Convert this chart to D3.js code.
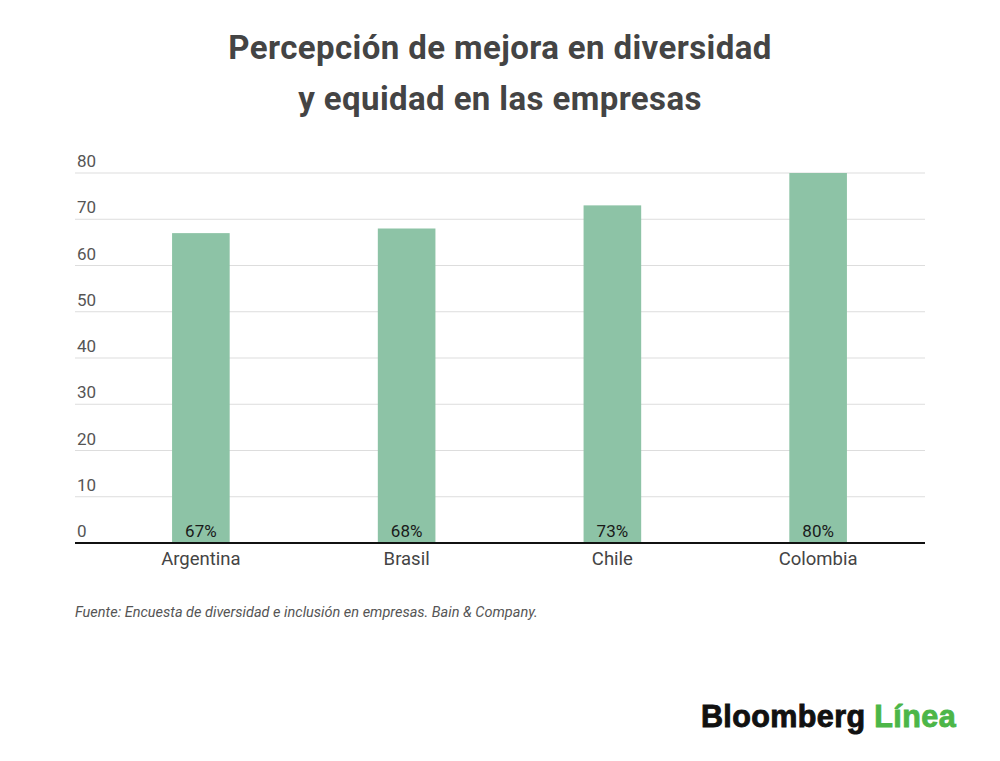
<!DOCTYPE html>
<html>
<head>
<meta charset="utf-8">
<script src="https://cdn.jsdelivr.net/npm/d3@7"></script>
<style>
  body { margin: 0; background: #fff; }
  svg { font-family: Roboto, "Noto Sans", sans-serif; }
</style>
</head>
<body>
<div id="chart"></div>
<script>
// Chart data
const countries = ["Argentina", "Brasil", "Chile", "Colombia"];
const values = [67, 68, 73, 80];
const yTicks = [0, 10, 20, 30, 40, 50, 60, 70, 80];
const titleLines = ["Percepción de mejora en diversidad", "y equidad en las empresas"];
const sourceText = "Fuente: Encuesta de diversidad e inclusión en empresas. Bain & Company.";

const width = 1000;
const height = 761;

const svg = d3.select("#chart")
    .append("svg")
    .attr("width", width)
    .attr("height", height);

// Scales
const xScale = d3.scaleBand()
    .domain(countries)
    .range([98, 921])
    .paddingInner(0.72)
    .paddingOuter(0.36);

const yScale = d3.scaleLinear()
    .domain([0, 80])
    .range([543, 173]);

// Title
svg.append("g")
    .selectAll("text")
    .data(titleLines)
    .enter().append("text")
    .attr("x", 500)
    .attr("y", (d, i) => 59 + i * 51)
    .attr("text-anchor", "middle")
    .attr("font-size", 33)
    .attr("font-weight", "bold")
    .attr("letter-spacing", 0.4)
    .attr("fill", "#444")
    .text(d => d);

// Gridlines
svg.append("g")
    .selectAll("line")
    .data(yTicks.filter(d => d > 0))
    .enter().append("line")
    .attr("x1", 75)
    .attr("x2", 925)
    .attr("y1", d => yScale(d))
    .attr("y2", d => yScale(d))
    .attr("stroke", "#ddd")
    .attr("stroke-width", 1);

// Y tick labels sit above their gridline
svg.append("g")
    .selectAll("text")
    .data(yTicks)
    .enter().append("text")
    .attr("x", 77)
    .attr("y", d => yScale(d) - 6)
    .attr("font-size", 17)
    .attr("fill", "#555")
    .text(d => d);

// Bars
svg.selectAll(".bar")
    .data(values)
    .enter().append("rect")
    .attr("class", "bar")
    .attr("x", (d, i) => xScale(countries[i]))
    .attr("y", d => yScale(d))
    .attr("width", xScale.bandwidth())
    .attr("height", d => yScale(0) - yScale(d))
    .attr("fill", "#8dc3a6");

// Value labels at the bottom of each bar
svg.append("g")
    .selectAll("text")
    .data(values)
    .enter().append("text")
    .attr("x", (d, i) => xScale(countries[i]) + xScale.bandwidth() / 2)
    .attr("y", yScale(0) - 6)
    .attr("text-anchor", "middle")
    .attr("font-size", 17)
    .attr("fill", "#1a1a1a")
    .text(d => d + "%");

// Baseline
svg.append("line")
    .attr("x1", 75)
    .attr("x2", 925)
    .attr("y1", yScale(0))
    .attr("y2", yScale(0))
    .attr("stroke", "#111")
    .attr("stroke-width", 2);

// X axis labels
const xAxis = svg.append("g")
    .attr("transform", "translate(0," + yScale(0) + ")")
    .call(d3.axisBottom(xScale).tickSize(0).tickPadding(9));
xAxis.select(".domain").remove();
xAxis.selectAll("text")
    .attr("font-family", "Roboto, sans-serif")
    .attr("font-size", 18.5)
    .attr("fill", "#444");

// Source note
svg.append("text")
    .attr("x", 75)
    .attr("y", 617)
    .attr("font-size", 14.5)
    .attr("font-style", "italic")
    .attr("fill", "#555")
    .text(sourceText);

// Logo
const logo = svg.append("text")
    .attr("x", 956)
    .attr("y", 727)
    .attr("text-anchor", "end")
    .attr("font-family", "'Liberation Sans', Arial, sans-serif")
    .attr("font-size", 30.5)
    .attr("font-weight", "bold")
    .attr("letter-spacing", 0.4)
    .attr("stroke-width", 0.9);
logo.append("tspan").attr("fill", "#111").attr("stroke", "#111").text("Bloomberg ");
logo.append("tspan").attr("fill", "#4cb648").attr("stroke", "#4cb648").text("Línea");
</script>
</body>
</html>
